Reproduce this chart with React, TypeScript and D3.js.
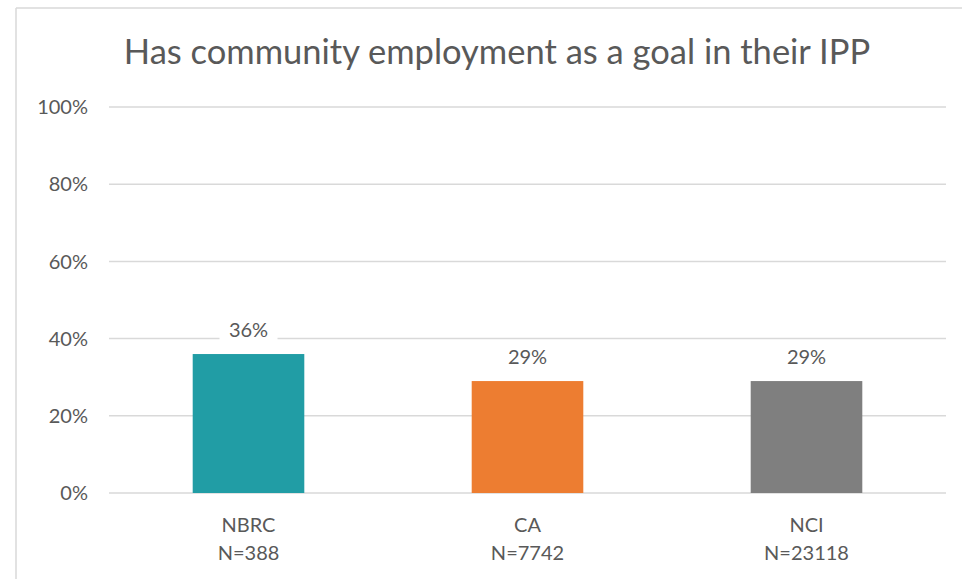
import React from "react";
import * as d3 from "d3";

const categories = ["NBRC", "CA", "NCI"];
const sampleSizes = ["N=388", "N=7742", "N=23118"];
const values = [0.36, 0.29, 0.29];
const colors = ["#219DA5", "#ED7D31", "#7F7F7F"];
const yTicks = [0, 0.2, 0.4, 0.6, 0.8, 1.0];
const title = "Has community employment as a goal in their IPP";

const W = 962;
const H = 579;
const FONT = "Lato, 'Open Sans', sans-serif";
const TEXT = "#595959";
const FS = 20;

export default function App() {
  const x = d3
    .scaleBand<string>()
    .domain(categories)
    .range([109, 946])
    .paddingInner(0.6)
    .paddingOuter(0.3);
  const y = d3.scaleLinear().domain([0, 1]).range([493, 107]);
  const fmt = d3.format(".0%");

  return (
    <svg
      width={W}
      height={H}
      style={{ position: "absolute", left: 0, top: 0, background: "#fff" }}
      fontFamily={FONT}
    >
      <rect x={0} y={0} width={W} height={H} fill="#fff" />
      {/* chart border */}
      <line x1={16} y1={8} x2={W} y2={8} stroke="#D9D9D9" strokeWidth={1.5} />
      <line x1={16} y1={8} x2={16} y2={H} stroke="#D9D9D9" strokeWidth={1.5} />

      <text x={497} y={64} textAnchor="middle" fontSize={34.5} fill={TEXT}>
        {title}
      </text>

      {yTicks.map((t) => (
        <g key={t}>
          <line
            x1={109}
            x2={946}
            y1={y(t)}
            y2={y(t)}
            stroke="#D9D9D9"
            strokeWidth={1.5}
          />
          <text
            x={88}
            y={y(t)}
            dy="0.36em"
            textAnchor="end"
            fontSize={FS}
            fill={TEXT}
          >
            {fmt(t)}
          </text>
        </g>
      ))}

      {categories.map((c, i) => {
        const bx = x(c)!;
        const bw = x.bandwidth();
        const cx = bx + bw / 2;
        const top = y(values[i]);
        return (
          <g key={c}>
            <rect
              x={bx}
              y={top}
              width={bw}
              height={y(0) - top}
              fill={colors[i]}
            />
            <rect x={cx - 29} y={top - 37} width={58} height={26} fill="#fff" />
            <text
              x={cx}
              y={top - 17}
              textAnchor="middle"
              fontSize={FS}
              fill={TEXT}
            >
              {fmt(values[i])}
            </text>
            <text
              x={cx}
              y={532}
              textAnchor="middle"
              fontSize={FS}
              fill={TEXT}
            >
              {c}
            </text>
            <text
              x={cx}
              y={560}
              textAnchor="middle"
              fontSize={FS}
              fill={TEXT}
            >
              {sampleSizes[i]}
            </text>
          </g>
        );
      })}
    </svg>
  );
}
